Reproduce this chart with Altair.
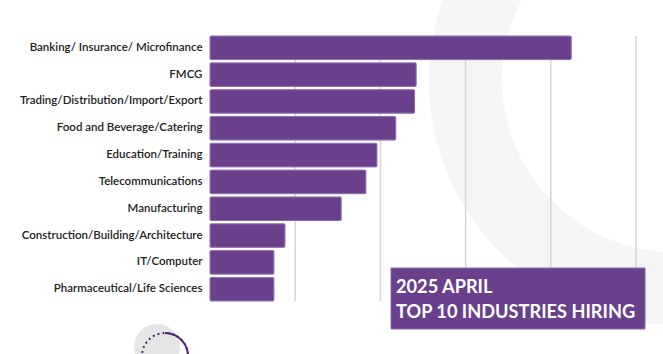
import altair as alt
import pandas as pd

industries = [
    "Banking/ Insurance/ Microfinance",
    "FMCG",
    "Trading/Distribution/Import/Export",
    "Food and Beverage/Catering",
    "Education/Training",
    "Telecommunications",
    "Manufacturing",
    "Construction/Building/Architecture",
    "IT/Computer",
    "Pharmaceutical/Life Sciences",
]
values = [424, 242, 240, 218, 196, 183, 154, 88, 75, 75]
grid_values = [100, 200, 300, 400, 500]
title_lines = ["2025 APRIL", "TOP 10 INDUSTRIES HIRING"]

PURPLE = "#6a3f8c"

df = pd.DataFrame({"industry": industries, "value": values})
grid_df = pd.DataFrame({"g": grid_values})

x_scale = alt.Scale(domain=[0, 500], nice=False)
one = pd.DataFrame({"a": [0]})

ring = alt.Chart(one).mark_arc(
    color="#f5f5f5", theta=0, theta2=6.2832, clip=False
).encode(
    x=alt.value(464), y=alt.value(44),
    radius=alt.value(245), radius2=alt.value(172),
)

grid = alt.Chart(grid_df).mark_rule(color="#d6d6d6", strokeWidth=1.5).encode(
    x=alt.X("g:Q", scale=x_scale, axis=None)
)

bars = alt.Chart(df).mark_bar(
    color=PURPLE, stroke="#8e6aab", strokeWidth=1, cornerRadius=1
).encode(
    x=alt.X("value:Q", scale=x_scale, axis=None),
    y=alt.Y(
        "industry:N",
        sort=industries,
        scale=alt.Scale(paddingInner=0.12, paddingOuter=0.0),
        axis=alt.Axis(
            title=None, ticks=False, domain=False, labelPadding=8,
            labelFont="Lato", labelFontSize=11.5, labelColor="#222222",
            labelFontWeight=600, labelLimit=300,
        ),
    ),
)

hatch = alt.Chart(one).mark_point(
    shape="circle", filled=True, color="#e6e6e6", opacity=1, size=2116, clip=False
).encode(x=alt.value(-53), y=alt.value(311))

dashed = alt.Chart(one).mark_point(
    shape="circle", filled=False, color="#4b2470", strokeWidth=2,
    strokeDash=[2, 3], size=2116, clip=False, opacity=1
).encode(x=alt.value(-45), y=alt.value(320))

solid = alt.Chart(one).mark_arc(
    color="#4b2470", theta=0, theta2=3.3, clip=False
).encode(
    x=alt.value(-45), y=alt.value(320),
    radius=alt.value(24), radius2=alt.value(22),
)

box = alt.Chart(one).mark_rect(
    color=PURPLE, stroke="#8e6aab", strokeWidth=1, clip=False
).encode(
    x=alt.value(181), x2=alt.value(435), y=alt.value(232), y2=alt.value(293)
)

def title_line(txt, ypos):
    return alt.Chart(one).mark_text(
        align="left", baseline="alphabetic", font="Lato", fontWeight="bold",
        fontSize=18.2, color="white", clip=False, text=txt
    ).encode(x=alt.value(186), y=alt.value(ypos))

t1 = title_line(title_lines[0], 257)
t2 = title_line(title_lines[1], 282)

chart = alt.layer(ring, grid, bars, hatch, dashed, solid, box, t1, t2).properties(
    width=426, height=265,
    autosize=alt.AutoSizeParams(type="none"),
    padding={"left": 210, "top": 36, "right": 27, "bottom": 53},
    background="white",
).configure_view(stroke=None)

chart.save("out.html", embed_options={"renderer": "svg", "actions": False})
